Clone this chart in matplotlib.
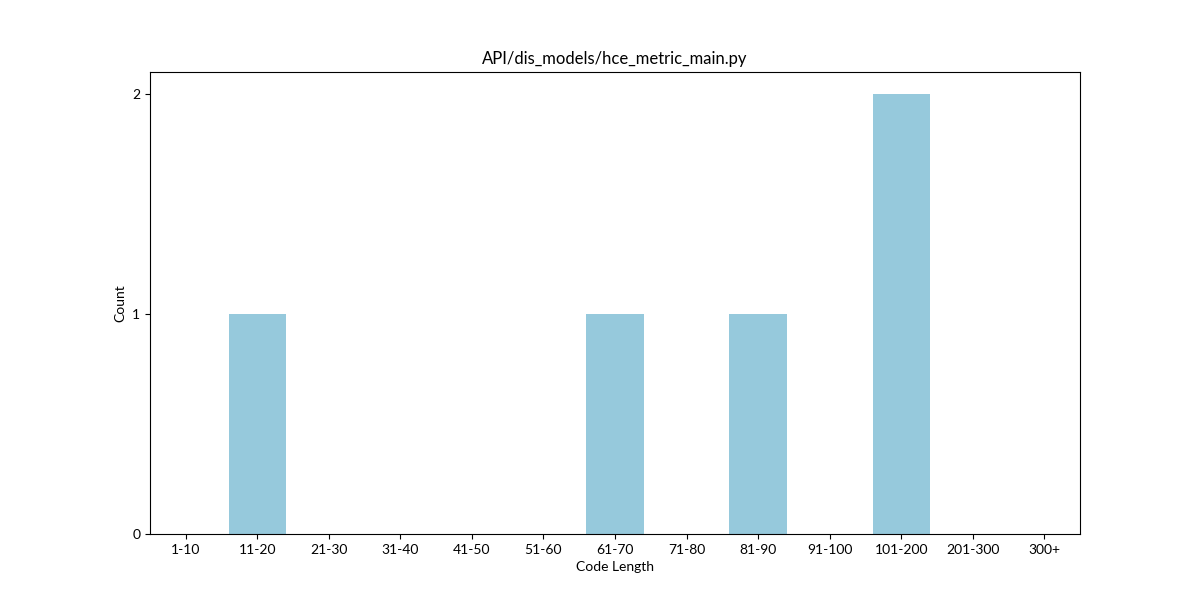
import matplotlib
matplotlib.use("Agg")
import matplotlib.pyplot as plt

categories = ["1-10", "11-20", "21-30", "31-40", "41-50", "51-60", "61-70",
              "71-80", "81-90", "91-100", "101-200", "201-300", "300+"]
counts = [0, 1, 0, 0, 0, 0, 1, 0, 1, 0, 2, 0, 0]

plt.rcParams['font.family'] = ['Lato', 'DejaVu Sans']
fig, ax = plt.subplots(figsize=(12, 6), dpi=100)
x = list(range(len(categories)))
ax.bar(x, counts, width=0.8, color="#96C9DC")
ax.set_xticks(x)
ax.set_xticklabels(categories)
ax.set_xlim(-0.5, len(categories) - 0.5)
ax.set_ylim(0, 2.1)
ax.set_yticks([0, 1, 2])
ax.set_xlabel("Code Length")
ax.set_ylabel("Count")
ax.set_title("API/dis_models/hce_metric_main.py")
fig.savefig("out.png", dpi=100)
